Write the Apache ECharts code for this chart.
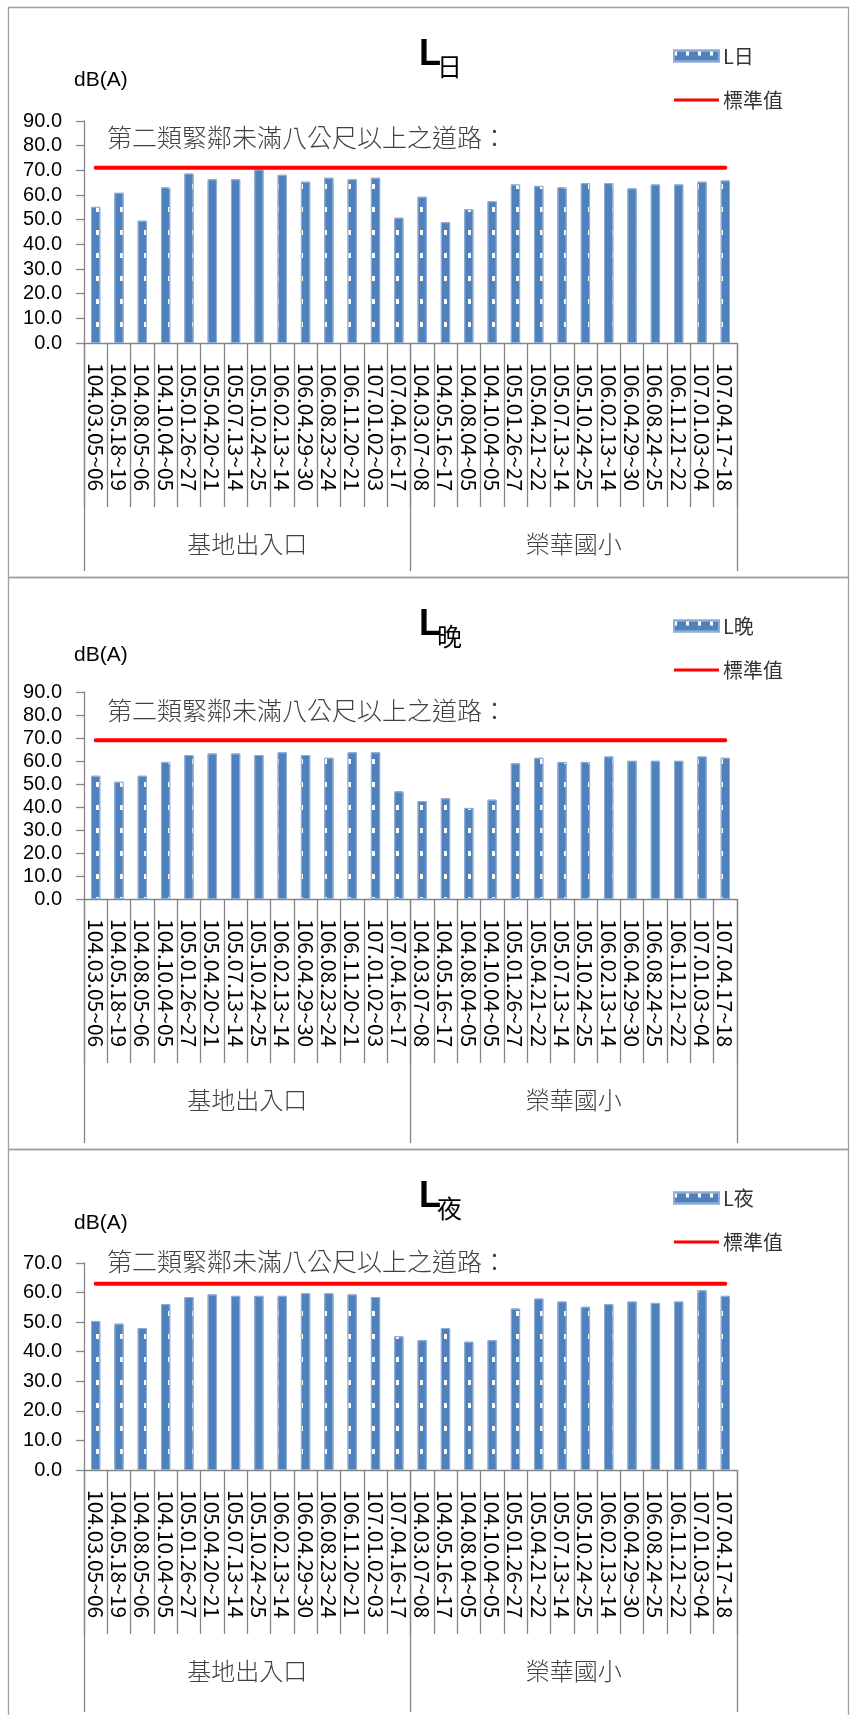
<!DOCTYPE html>
<html><head><meta charset="utf-8">
<script src="https://cdn.jsdelivr.net/npm/echarts@6/dist/echarts.min.js"></script>
<style>html,body{margin:0;padding:0;background:#fff}#c{width:850px;height:1715px}</style>
</head><body><div id="c"></div>
<script>
// ---- data ----
const siteGroups = ['基地出入口', '榮華國小'];
const dates = [
  '104.03.05~06','104.05.18~19','104.08.05~06','104.10.04~05','105.01.26~27','105.04.20~21','105.07.13~14',
  '105.10.24~25','106.02.13~14','106.04.29~30','106.08.23~24','106.11.20~21','107.01.02~03','107.04.16~17',
  '104.03.07~08','104.05.16~17','104.08.04~05','104.10.04~05','105.01.26~27','105.04.21~22','105.07.13~14',
  '105.10.24~25','106.02.13~14','106.04.29~30','106.08.24~25','106.11.21~22','107.01.03~04','107.04.17~18'
];
const lDay = [55.2, 60.9, 49.6, 63.1, 68.7, 66.4, 66.4, 70.3, 68.2, 65.4, 67.0, 66.4, 67.0, 50.8,
              59.3, 49.0, 54.2, 57.5, 64.3, 63.7, 63.1, 64.8, 64.8, 62.7, 64.3, 64.3, 65.4, 65.9];
const lEvening = [53.6, 51.0, 53.6, 59.6, 62.6, 63.3, 63.3, 62.6, 63.8, 62.6, 61.4, 63.8, 63.8, 46.8,
                  42.6, 43.8, 39.6, 43.2, 59.0, 61.4, 59.6, 59.6, 62.0, 60.1, 60.1, 60.1, 62.0, 61.4];
const lNight = [50.4, 49.5, 48.0, 56.1, 58.5, 59.4, 58.9, 58.9, 58.9, 59.8, 59.8, 59.4, 58.5, 45.2,
                43.9, 48.0, 43.4, 43.9, 54.6, 58.0, 57.0, 55.2, 56.1, 57.0, 56.5, 57.0, 60.8, 58.9];
const stdDay = [71,71,71,71,71,71,71,71,71,71,71,71,71,71,71,71,71,71,71,71,71,71,71,71,71,71,71,71];
const stdEvening = [69,69,69,69,69,69,69,69,69,69,69,69,69,69,69,69,69,69,69,69,69,69,69,69,69,69,69,69];
const stdNight = [63,63,63,63,63,63,63,63,63,63,63,63,63,63,63,63,63,63,63,63,63,63,63,63,63,63,63,63];
const seriesNames = ['L日', 'L晚', 'L夜'];
const titleSubs = ['日', '晚', '夜'];
const stdName = '標準值';
const unitLabel = 'dB(A)';
const noteText = '第二類緊鄰未滿八公尺以上之道路：';
const yMaxes = [90, 90, 70];
const yInterval = 10;

// ---- layout ----
const panels = [
  { top: 7,    bottom: 577,  gridTop: 121,  axisY: 343,  groupTick: 228, noteY: 137, unitY: 80,   values: lDay,     std: stdDay },
  { top: 577,  bottom: 1149, gridTop: 692,  axisY: 899,  groupTick: 244, noteY: 710, unitY: 655,  values: lEvening, std: stdEvening },
  { top: 1149, bottom: 1730, gridTop: 1263, axisY: 1470, groupTick: 242, noteY: 1261, unitY: 1223, values: lNight,  std: stdNight }
];
const gridLeft = 84, gridRight = 737;
const axisGray = '#868686';
const cjk = '"Noto Sans CJK TC", "Noto Sans CJK SC", sans-serif';
const lat = '"Liberation Sans", Arial, sans-serif';

const barDecal = {
  symbol: 'rect', symbolSize: 1, color: '#ffffff',
  dashArrayX: [[3, 8.6]], dashArrayY: [5, 18]
};
const lineIcon = 'path://M0,0L45,0L45,3L0,3Z';

const grids = [], xAxes = [], yAxes = [], series = [], legends = [], graphics = [];
panels.forEach((p, i) => {
  grids.push({ left: gridLeft, width: gridRight - gridLeft, top: p.gridTop, height: p.axisY - p.gridTop, containLabel: false });
  xAxes.push({
    type: 'category', gridIndex: i, data: dates, position: 'bottom',
    axisLine: { show: true, lineStyle: { color: axisGray, width: 1.3 } },
    axisTick: { show: true, length: 164, lineStyle: { color: axisGray, width: 1.3 } },
    axisLabel: { rotate: -90, margin: 20, fontSize: 21, color: '#000', fontFamily: cjk, interval: 0 },
    splitLine: { show: false }
  });
  xAxes.push({
    type: 'category', gridIndex: i, data: siteGroups, position: 'bottom',
    axisLine: { show: false },
    axisTick: { show: true, length: p.groupTick, lineStyle: { color: axisGray, width: 1.3 } },
    axisLabel: { margin: 189, fontSize: 24, color: '#404040', fontFamily: cjk, fontWeight: 300, interval: 0 },
    splitLine: { show: false }
  });
  yAxes.push({
    type: 'value', gridIndex: i, min: 0, max: yMaxes[i], interval: yInterval,
    axisLine: { show: true, lineStyle: { color: axisGray, width: 1.3 } },
    axisTick: { show: true, length: 8, lineStyle: { color: axisGray, width: 1.3 } },
    axisLabel: { margin: 22, fontSize: 20, color: '#000', fontFamily: lat, formatter: v => v.toFixed(1) },
    splitLine: { show: false }
  });
  series.push({
    name: seriesNames[i], type: 'bar', xAxisIndex: 2 * i, yAxisIndex: i, data: p.values,
    barWidth: '40%',
    itemStyle: { color: '#4F81BD', borderColor: '#8EACD4', borderWidth: 1, decal: barDecal },
    emphasis: { disabled: true }, animation: false
  });
  series.push({
    name: stdName, type: 'line', xAxisIndex: 2 * i, yAxisIndex: i, data: p.std,
    symbol: 'none', showSymbol: false, lineStyle: { color: '#FF0000', width: 4, cap: 'round' }, itemStyle: { color: '#FF0000' },
    emphasis: { disabled: true }, animation: false
  });
  legends.push({
    orient: 'vertical', left: 668, top: p.top + 34, itemWidth: 45, itemHeight: 11, itemGap: 24,
    selectedMode: false,
    textStyle: { fontSize: 20, color: '#333', fontFamily: cjk, padding: [0, 0, 0, -1] },
    data: [{ name: seriesNames[i], icon: 'rect' }, { name: stdName, icon: lineIcon, itemStyle: { color: '#FF0000' } }]
  });
  // frame
  graphics.push({ type: 'rect', shape: { x: 8.5, y: p.top + 0.5, width: 840, height: p.bottom - p.top },
    style: { fill: 'none', stroke: '#a0a0a0', lineWidth: 1.3 }, silent: true, z: 0 });
  // title L + subscript
  graphics.push({ type: 'text', x: 419, y: p.top + 48, style: { text: 'L', font: 'bold 36px ' + lat, fill: '#000', verticalAlign: 'middle' }, z: 10 });
  graphics.push({ type: 'text', x: 437, y: p.top + 59, style: { text: titleSubs[i], font: '25px ' + cjk, fill: '#000', verticalAlign: 'middle' }, z: 10 });
  // unit
  graphics.push({ type: 'text', x: 74, y: p.unitY, style: { text: unitLabel, font: '21px ' + lat, fill: '#000', verticalAlign: 'middle' }, z: 10 });
  // note
  graphics.push({ type: 'text', x: 107, y: p.noteY, style: { text: noteText, font: '300 25px ' + cjk, fill: '#404040', verticalAlign: 'middle' }, z: 10 });
});

const chart = echarts.init(document.getElementById('c'), null, { renderer: 'canvas' });
chart.setOption({
  animation: false,
  backgroundColor: '#fff',
  textStyle: { fontFamily: cjk },
  grid: grids, xAxis: xAxes, yAxis: yAxes, series: series, legend: legends,
  graphic: graphics
});
</script></body></html>
